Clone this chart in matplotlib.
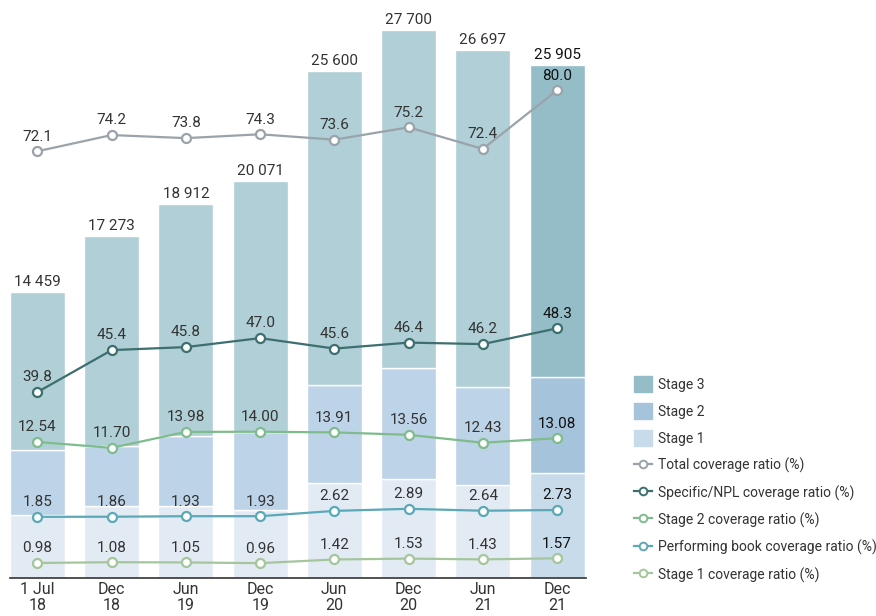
import matplotlib.pyplot as plt
from matplotlib.patches import Patch
from matplotlib.lines import Line2D

plt.rcParams['font.family'] = ['Roboto', 'DejaVu Sans']

# data
periods = ['1 Jul\n18', 'Dec\n18', 'Jun\n19', 'Dec\n19', 'Jun\n20', 'Dec\n20', 'Jun\n21', 'Dec\n21']
totals = [14459, 17273, 18912, 20071, 25600, 27700, 26697, 25905]
stage1 = [3180, 3640, 3640, 3430, 4800, 5000, 4700, 5300]
stage2 = [3280, 3030, 3530, 3940, 4950, 5610, 4950, 4850]
stage3 = [t - a - b for t, a, b in zip(totals, stage1, stage2)]

total_cov = [72.1, 74.2, 73.8, 74.3, 73.6, 75.2, 72.4, 80.0]
specific_cov = [39.8, 45.4, 45.8, 47.0, 45.6, 46.4, 46.2, 48.3]
stage2_cov = [12.54, 11.70, 13.98, 14.00, 13.91, 13.56, 12.43, 13.08]
performing_cov = [1.85, 1.86, 1.93, 1.93, 2.62, 2.89, 2.64, 2.73]
stage1_cov = [0.98, 1.08, 1.05, 0.96, 1.42, 1.53, 1.43, 1.57]

# colours: normal bars, last bar highlighted
s3_col, s3_hi = '#b0cfd6', '#94bdc8'
s2_col, s2_hi = '#bdd3e7', '#a6c3dc'
s1_col, s1_hi = '#e2ebf3', '#c8dbeb'
txt = '#333333'

fig = plt.figure(figsize=(8.76, 6.16), dpi=100)
ax = fig.add_axes([10 / 876, 38 / 616, 576 / 876, 578 / 616])

x = list(range(len(periods)))
n = len(x)
c1 = [s1_col] * (n - 1) + [s1_hi]
c2 = [s2_col] * (n - 1) + [s2_hi]
c3 = [s3_col] * (n - 1) + [s3_hi]
bottom2 = stage1
bottom3 = [a + b for a, b in zip(stage1, stage2)]
w = 0.74
ax.bar(x, stage1, w, color=c1, edgecolor='white', linewidth=1)
ax.bar(x, stage2, w, bottom=bottom2, color=c2, edgecolor='white', linewidth=1)
ax.bar(x, stage3, w, bottom=bottom3, color=c3, edgecolor='white', linewidth=1)

for i, t in enumerate(totals):
    ax.annotate(f'{t:,}'.replace(',', ' '), (i, t), xytext=(0, 2), textcoords='offset points',
                ha='center', va='bottom', fontsize=11, color='#111111' if i == n - 1 else txt)

ax.set_xlim(-0.37, 7.39)
ax.set_ylim(0, 29200)
ax.set_yticks([])
ax.set_xticks(x)
ax.set_xticklabels(periods, fontsize=11.5, color=txt, linespacing=1.05)
ax.tick_params(axis='x', length=0, pad=3)
for s in ['top', 'right', 'left']:
    ax.spines[s].set_visible(False)
ax.spines['bottom'].set_color('#333333')
ax.spines['bottom'].set_linewidth(1.2)

# each ratio line gets its own hidden axis so they sit at different heights
lines = [
    (total_cov, '#9ba3aa', (16.8, 91.7), '{:.1f}', 'Total coverage ratio (%)'),
    (specific_cov, '#3e6f6f', (15.0, 92.1), '{:.1f}', 'Specific/NPL coverage ratio (%)'),
    (stage2_cov, '#7fbc8c', (-6.9, 75.7), '{:.2f}', 'Stage 2 coverage ratio (%)'),
    (performing_cov, '#5ba9b6', (-6.1, 69.0), '{:.2f}', 'Performing book coverage ratio (%)'),
    (stage1_cov, '#a5c69c', (-0.9, 71.5), '{:.2f}', 'Stage 1 coverage ratio (%)'),
]
handles = [Patch(color=s3_hi, label='Stage 3'),
           Patch(color=s2_hi, label='Stage 2'),
           Patch(color=s1_hi, label='Stage 1')]
for vals, col, lim, fmt, lab in lines:
    a = ax.twinx()
    a.set_ylim(*lim)
    a.axis('off')
    a.plot(x, vals, color=col, lw=1.6, marker='o', ms=6.5, mfc='white', mec=col, mew=1.6,
           zorder=3)
    for i, v in enumerate(vals):
        a.annotate(fmt.format(v), (i, v), xytext=(0, 5.5), textcoords='offset points',
                   ha='center', va='bottom', fontsize=11,
                   color='#111111' if i == n - 1 else txt)
    handles.append(Line2D([], [], color=col, lw=1.6, marker='o', ms=5.5, mfc='white',
                          mec=col, mew=1.4, label=lab))

leg = fig.legend(handles=handles, loc='upper left', bbox_to_anchor=(0.717, 0.398),
                 frameon=False, fontsize=10, handlelength=1.3, handleheight=1.3,
                 handletextpad=0.45, labelspacing=0.85, borderaxespad=0)
for t in leg.get_texts():
    t.set_color(txt)

fig.savefig('out.png', dpi=100)
